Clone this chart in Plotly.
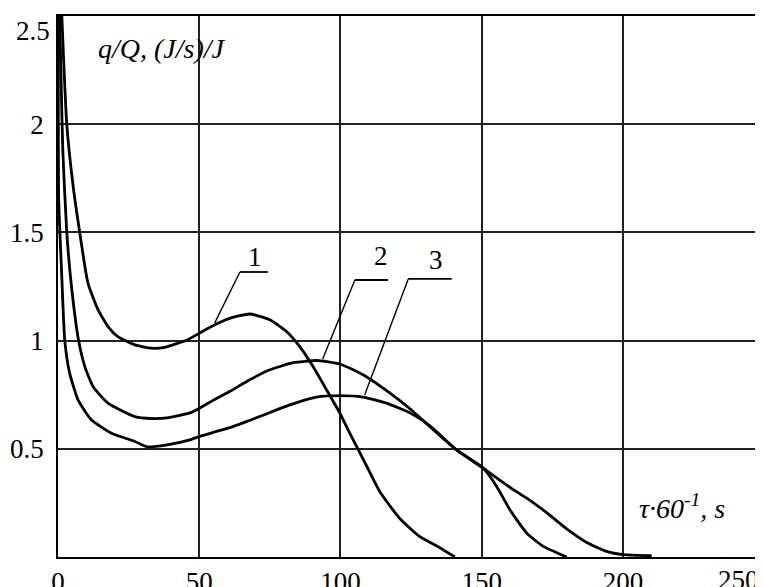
import plotly.graph_objects as go

# ---- data ----
x1 = [1.2, 3.1, 5.3, 7.7, 10.6, 14.2, 17.7, 21.2, 27.2, 33.0, 37.2, 45.7, 50.3, 55.0, 60.8,
      67.9, 75.0, 80.9, 85.6, 90.3, 95.1, 99.8, 102.7, 105.8, 109.4, 114.0, 121.0, 128.1, 135.2, 140.5]
y1 = [2.55, 2.0, 1.72, 1.499, 1.266, 1.142, 1.065, 1.018, 0.980, 0.965, 0.967, 1.003, 1.036, 1.070, 1.103,
      1.123, 1.096, 1.042, 0.972, 0.880, 0.772, 0.665, 0.588, 0.509, 0.417, 0.30, 0.178, 0.094, 0.043, 0.0]

x2 = [0.5, 1.1, 1.7, 3.1, 4.9, 7.3, 9.5, 12.4, 17.7, 27.2, 33.0, 38.6, 46.7, 50.3, 55.0, 60.8,
      67.9, 75.0, 83.3, 91.5, 99.8, 108.0, 115.1, 124.6, 131.6, 141.1, 150.5, 155.3, 160.0, 165.9, 171.8, 180.1]
y2 = [2.55, 2.2, 1.88, 1.50, 1.235, 1.0, 0.880, 0.788, 0.711, 0.649, 0.640, 0.643, 0.666, 0.689, 0.725, 0.765,
      0.819, 0.865, 0.898, 0.908, 0.892, 0.842, 0.780, 0.685, 0.603, 0.495, 0.411, 0.326, 0.218, 0.111, 0.049, 0.0]

x3 = [0.1, 0.25, 1.2, 2.4, 4.1, 7.1, 11.8, 18.9, 27.2, 31.5, 38.6, 46.7, 50.3, 55.0, 60.8, 71.4,
      82.1, 91.5, 99.8, 108.0, 116.3, 124.6, 131.6, 141.1, 150.5, 161.2, 167.1, 173.0, 180.1,
      187.2, 194.2, 200.1, 210.2]
y3 = [2.55, 1.65, 1.34, 1.0, 0.851, 0.726, 0.634, 0.572, 0.534, 0.509, 0.518, 0.541, 0.558, 0.576, 0.598, 0.649,
      0.703, 0.739, 0.746, 0.739, 0.711, 0.666, 0.607, 0.495, 0.411, 0.311, 0.262, 0.205, 0.13,
      0.067, 0.026, 0.011, 0.006]

x_ticks = [0, 50, 100, 150, 200]
x_tick_labels = ["0", "50", "100", "150", "200"]
x_last_tick = "250"
y_ticks = [0.5, 1, 1.5, 2]
y_tick_labels = ["0.5", "1", "1.5", "2"]
y_top_tick = 2.5

curve_labels = ["1", "2", "3"]
label_pos = [(69.7, 1.386), (114.3, 1.391), (133.8, 1.373)]
underline = [((64.4, 74.3), 1.317), ((105.1, 116.8), 1.280), ((124.0, 139.4), 1.285)]
leader_end = [(55.5, 1.082), (93.7, 0.915), (108.6, 0.750)]

y_title = "<i>q/Q, (J/s)/J</i>"
x_title = "<i>τ·60<sup>-1</sup>, s</i>"

FONT = "Liberation Serif"
FS = 27

fig = go.Figure()
for xs, ys in [(x1, y1), (x2, y2), (x3, y3)]:
    fig.add_trace(go.Scatter(x=xs, y=ys, mode="lines",
                             line=dict(color="black", width=2.8, shape="spline", smoothing=0.5),
                             showlegend=False, hoverinfo="skip"))

shapes = []
for (xa, xb), yu in underline:
    shapes.append(dict(type="line", xref="x", yref="y", x0=xa, x1=xb, y0=yu, y1=yu,
                       line=dict(color="black", width=1.8)))
for ((xa, xb), yu), (xe, ye) in zip(underline, leader_end):
    shapes.append(dict(type="line", xref="x", yref="y", x0=xa, x1=xe, y0=yu, y1=ye,
                       line=dict(color="black", width=1.4)))

annotations = []
for t, (xp, yp) in zip(curve_labels, label_pos):
    annotations.append(dict(x=xp, y=yp, xref="x", yref="y", text=t, showarrow=False,
                            font=dict(family=FONT, size=FS, color="black")))
annotations.append(dict(x=13.5, y=2.351, xref="x", yref="y", text=y_title, showarrow=False,
                        xanchor="left", yanchor="middle",
                        font=dict(family=FONT, size=FS + 1, color="black")))
annotations.append(dict(x=205, y=0.232, xref="x", yref="y", text=x_title, showarrow=False,
                        xanchor="left", yanchor="middle",
                        font=dict(family=FONT, size=FS + 1, color="black")))
annotations.append(dict(x=249.6, y=0, xref="x", yref="y", text=x_last_tick, showarrow=False,
                        xanchor="right", yanchor="top", xshift=-2, yshift=-6,
                        font=dict(family=FONT, size=FS, color="black")))
annotations.append(dict(x=0, y=y_top_tick, xref="x", yref="y", text=str(y_top_tick), showarrow=False,
                        xanchor="right", yanchor="top", xshift=-6, yshift=2,
                        font=dict(family=FONT, size=FS, color="black")))

# the page body has an 8px margin, so the margins below compensate for it
fig.update_layout(
    width=763, height=587,
    margin=dict(l=50, r=8, t=8, b=38),
    paper_bgcolor="white", plot_bgcolor="white",
    shapes=shapes, annotations=annotations,
    font=dict(family=FONT, size=FS, color="black"),
)
fig.update_xaxes(range=[0, 249.6], tickvals=x_ticks, ticktext=x_tick_labels, automargin=False,
                 showgrid=True, gridcolor="#222", gridwidth=1.6,
                 showline=True, linecolor="black", linewidth=1.8, mirror=True,
                 zeroline=False, ticks="", tickfont=dict(family=FONT, size=FS, color="black"))
fig.update_yaxes(range=[0, 2.5], tickvals=y_ticks + [y_top_tick], ticktext=y_tick_labels + [""],
                 automargin=False,
                 showgrid=True, gridcolor="#222", gridwidth=1.6,
                 showline=True, linecolor="black", linewidth=1.8, mirror=False,
                 zeroline=False, ticks="", ticklabelstandoff=7,
                 tickfont=dict(family=FONT, size=FS, color="black"))

fig.write_html("out.html")
